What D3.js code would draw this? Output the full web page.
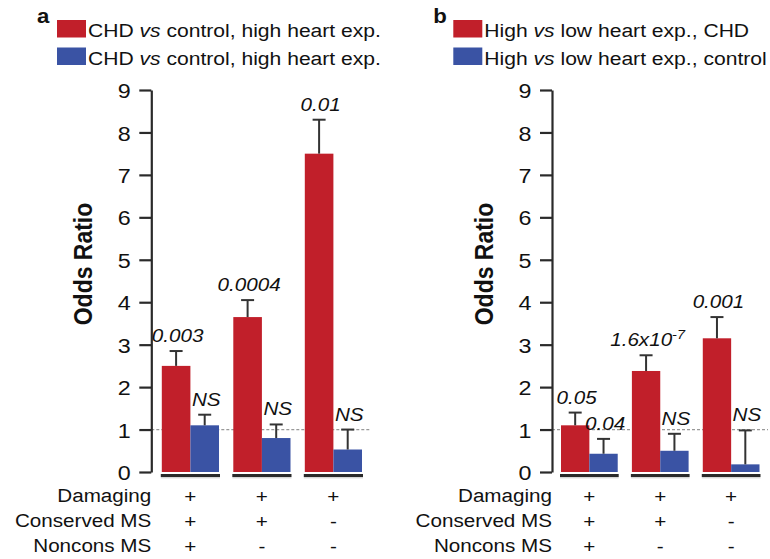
<!DOCTYPE html>
<html>
<head>
<meta charset="UTF-8">
<title>Odds Ratio panels</title>
<script src="https://cdnjs.cloudflare.com/ajax/libs/d3/7.8.5/d3.min.js"></script>
<style>
  body { margin: 0; background: #fff; }
  svg { display: block; font-family: "Liberation Sans", Arial, sans-serif; }
</style>
</head>
<body>
<div id="draw-here"></div>
<script>
// Data

var groups = [0, 1, 2];
var rowNames = ["Damaging", "Conserved MS", "Noncons MS"];
var damaging = ["+", "+", "+"];
var conserved = ["+", "+", "-"];
var noncons = ["+", "-", "-"];

// panel a
var redA = [2.5, 3.65, 7.5];
var redAErr = [2.85, 4.05, 8.3];
var blueA = [1.1, 0.8, 0.53];
var blueAErr = [1.35, 1.12, 1.0];
var redALab = ["0.003", "0.0004", "0.01"];
var blueALab = ["NS", "NS", "NS"];
var legendA = [["CHD ", "vs", " control, high heart exp."], ["CHD ", "vs", " control, high heart exp."]];

// panel b
var redB = [1.1, 2.38, 3.15];
var redBErr = [1.4, 2.75, 3.65];
var blueB = [0.43, 0.5, 0.18];
var blueBErr = [0.78, 0.9, 0.98];
var redBLab = ["0.05", "1.6x10|-7", "0.001"];
var blueBLab = ["0.04", "NS", "NS"];
var legendB = [["High ", "vs", " low heart exp., CHD"], ["High ", "vs", " low heart exp., control"]];

var yTicks = [0, 1, 2, 3, 4, 5, 6, 7, 8, 9];

// Layout

var w = 770, h = 559;
var SX = 1.11; // the figure's text is a little wide
var red = "#c11f2a", blue = "#3a53a4", ink = "#111", lineCol = "#2a2a2a";

var svg = d3.select("#draw-here").append("svg")
    .attr("width", w).attr("height", h);

var y = d3.scaleLinear().domain([0, 9]).range([472, 90]);

var panels = [
    { letter: "a", axisX: 151.3, left: 161.8, right: 362, dashEnd: 370, labelX: 84, legendX: 57,
      red: redA, redErr: redAErr, blue: blueA, blueErr: blueAErr, redLab: redALab, blueLab: blueALab, legend: legendA },
    { letter: "b", axisX: 552, left: 561, right: 759.5, dashEnd: 768, labelX: 485, legendX: 453.3,
      red: redB, redErr: redBErr, blue: blueB, blueErr: blueBErr, redLab: redBLab, blueLab: blueBLab, legend: legendB }
];

// text with the slight horizontal stretch
function addText(g, x, y0, size) {
    return g.append("text")
        .attr("transform", "translate(" + x + "," + y0 + ") scale(" + SX + ",1)")
        .attr("font-size", size)
        .attr("fill", ink);
}

function writeLabel(t, str) {
    var parts = str.split("|");
    t.append("tspan").text(parts[0]);
    if (parts[1]) {
        t.append("tspan").attr("dy", -7).attr("font-size", 13).text(parts[1]);
    }
}

panels.forEach(function(p) {
    var g = svg.append("g");

    var x = d3.scaleBand().domain(groups).range([p.left, p.right]).paddingInner(0.2).paddingOuter(0);
    var xs = d3.scaleBand().domain(["red", "blue"]).range([0, x.bandwidth()]);

    // panel letter
    addText(g, p.legendX - 20, 23, 20).attr("font-weight", "bold").text(p.letter);

    // legend
    [red, blue].forEach(function(c, i) {
        g.append("rect")
            .attr("x", p.legendX).attr("y", 20 + i * 27.5)
            .attr("width", 29).attr("height", 17.5)
            .attr("fill", c);
        var t = addText(g, p.legendX + 31, 36.7 + i * 28.3, 19);
        p.legend[i].forEach(function(s, k) {
            t.append("tspan").attr("font-style", k === 1 ? "italic" : "normal").text(s);
        });
    });

    // y label
    g.append("text")
        .attr("transform", "translate(" + (p.labelX + 8) + ",264) scale(" + SX + ",1) rotate(-90)")
        .attr("text-anchor", "middle")
        .attr("font-size", 23)
        .attr("font-weight", "bold")
        .attr("fill", ink)
        .text("Odds Ratio");

    // reference line at OR = 1
    g.append("line")
        .attr("x1", p.axisX).attr("x2", p.dashEnd)
        .attr("y1", y(1)).attr("y2", y(1))
        .attr("stroke", "#999").attr("stroke-width", 1.2)
        .attr("stroke-dasharray", "3,2");

    // axis
    var axis = g.append("g")
        .attr("transform", "translate(" + p.axisX + ",0)")
        .call(d3.axisLeft(y).tickValues(yTicks).tickSize(12).tickSizeOuter(0).tickPadding(8));
    axis.select(".domain").attr("stroke", lineCol).attr("stroke-width", 2.2);
    axis.selectAll(".tick line").attr("stroke", lineCol).attr("stroke-width", 2.2);
    axis.selectAll(".tick text")
        .attr("x", -20.5 / SX)
        .attr("dy", "0.36em")
        .attr("transform", "scale(" + SX + ",1)")
        .attr("font-size", 21)
        .attr("font-family", "Liberation Sans, Arial, sans-serif")
        .attr("fill", ink);

    // bars, error bars and labels
    var series = [
        { key: "red", color: red, vals: p.red, errs: p.redErr, labs: p.redLab },
        { key: "blue", color: blue, vals: p.blue, errs: p.blueErr, labs: p.blueLab }
    ];

    series.forEach(function(s) {
        var sg = g.append("g");
        var cx = function(i) { return x(i) + xs(s.key) + xs.bandwidth() / 2; };

        sg.selectAll("rect").data(s.vals).enter().append("rect")
            .attr("x", function(d, i) { return x(i) + xs(s.key); })
            .attr("y", function(d) { return y(d); })
            .attr("width", xs.bandwidth())
            .attr("height", function(d) { return y(0) - y(d); })
            .attr("fill", s.color);

        sg.selectAll("line.err").data(s.errs).enter().append("line")
            .attr("class", "err")
            .attr("x1", function(d, i) { return cx(i); })
            .attr("x2", function(d, i) { return cx(i); })
            .attr("y1", function(d, i) { return y(s.vals[i]); })
            .attr("y2", function(d) { return y(d); })
            .attr("stroke", "#333").attr("stroke-width", 2);

        sg.selectAll("line.cap").data(s.errs).enter().append("line")
            .attr("class", "cap")
            .attr("x1", function(d, i) { return cx(i) - 6.5; })
            .attr("x2", function(d, i) { return cx(i) + 6.5; })
            .attr("y1", function(d) { return y(d); })
            .attr("y2", function(d) { return y(d); })
            .attr("stroke", "#333").attr("stroke-width", 2);

        s.labs.forEach(function(lab, i) {
            var t = addText(sg, cx(i) + 1.5, y(s.errs[i]) - 9, 18.6)
                .attr("text-anchor", "middle")
                .attr("font-style", "italic");
            writeLabel(t, lab);
        });
    });

    // baseline under each group
    g.selectAll("line.base").data(groups).enter().append("line")
        .attr("class", "base")
        .attr("x1", function(d) { return x(d) - 1; })
        .attr("x2", function(d) { return x(d) + x.bandwidth() + 1; })
        .attr("y1", 475.5).attr("y2", 475.5)
        .attr("stroke", lineCol).attr("stroke-width", 2.8);
    g.selectAll("line.shadow").data(groups).enter().append("line")
        .attr("class", "shadow")
        .attr("x1", function(d) { return x(d) - 1; })
        .attr("x2", function(d) { return x(d) + x.bandwidth() + 1; })
        .attr("y1", 477.8).attr("y2", 477.8)
        .attr("stroke", "#c8c8c8").attr("stroke-width", 1);

    // condition table
    var rows = [damaging, conserved, noncons];
    rows.forEach(function(row, r) {
        var by = 501.7 + r * 25;
        addText(g, p.axisX, by, 18.6).attr("text-anchor", "end").text(rowNames[r]);
        row.forEach(function(sym, i) {
            addText(g, x(i) + x.bandwidth() / 2, by + 1, 18.6)
                .attr("text-anchor", "middle")
                .text(sym);
        });
    });
});
</script>
</body>
</html>
